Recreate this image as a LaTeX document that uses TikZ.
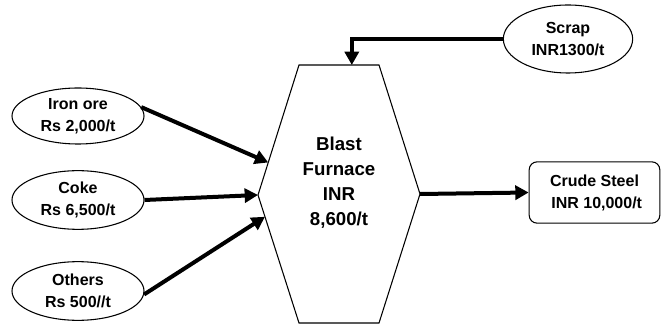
\documentclass[tikz,border=0pt]{standalone}
\usepackage{fontspec}
\setmainfont{Liberation Sans}
\usepackage{tikz}
\usetikzlibrary{arrows.meta}
\usetikzlibrary{shapes.geometric}
\usetikzlibrary{calc}
\usetikzlibrary{positioning}
\newcommand\flowwidth{3pt}
\newcommand\outlinewd{.8pt}
\newcommand\smalltext{\fontsize{12}{16.5}\selectfont\bfseries}
\newcommand\bigtext{\fontsize{14}{18.75}\selectfont\bfseries}
\tikzset{>={Triangle[length=10pt,width=10.5pt]}}
\tikzset{%
  graph/.style={line width=\outlinewd},
  price/.style={graph, draw, ellipse, inner sep=0pt, align=center,
    minimum width=99pt, minimum height=42pt, font=\smalltext},
  product/.style={graph, draw, rounded corners=6pt, inner sep=0pt, align=center,
    minimum width=98pt, minimum height=46pt, font=\smalltext},
  flow/.style={line width=\flowwidth, ->}
}

\begin{document}
\begin{tikzpicture}[x=.75pt,y=-.75pt,graph]
  \useasboundingbox (0,0) rectangle (666,327);
  % furnace outline
  \coordinate (bftl) at (299,65);
  \coordinate (bftr) at (379,65);
  \coordinate (bfr) at (420,194);
  \coordinate (bfbr) at (379,323);
  \coordinate (bfbl) at (299,323);
  \coordinate (bfl) at (258,195);
  \draw (bftl) -- (bftr) -- (bfr) -- (bfbr) -- (bfbl) -- (bfl) -- cycle;
  \node[align=center,font=\bigtext] (bf) at (339,183) {Blast\\Furnace\\INR\\8,600/t};
  % inputs
  \node[price] (ironore) at (78,116) {Iron ore\\Rs 2,000/t};
  \node[price, minimum height=44pt] (coke) at (78,200) {Coke\\Rs 6,500/t};
  \node[price, minimum height=44pt] (others) at (78,291) {Others\\Rs 500//t};
  \node[price, minimum width=97pt, minimum height=51pt] (scrap) at (568,39) {Scrap\\INR1300/t};
  % output
  \node[product] (crude) at (594.5,192.5) {Crude Steel\\\ INR 10,000/t};
  % flows
  \draw[flow] (ironore.8) -- ($(bfl)!.25!(bftl)$);
  \draw[flow] (coke.east) -- (bfl);
  \draw[flow] (others.-3) -- ($(bfl)!.17!(bfbl)$);
  \draw[flow] (scrap.west) -| ($(bftl)!.66!(bftr)$);
  \draw[flow] (bfr) -- (crude.west);
\end{tikzpicture}
\end{document}
